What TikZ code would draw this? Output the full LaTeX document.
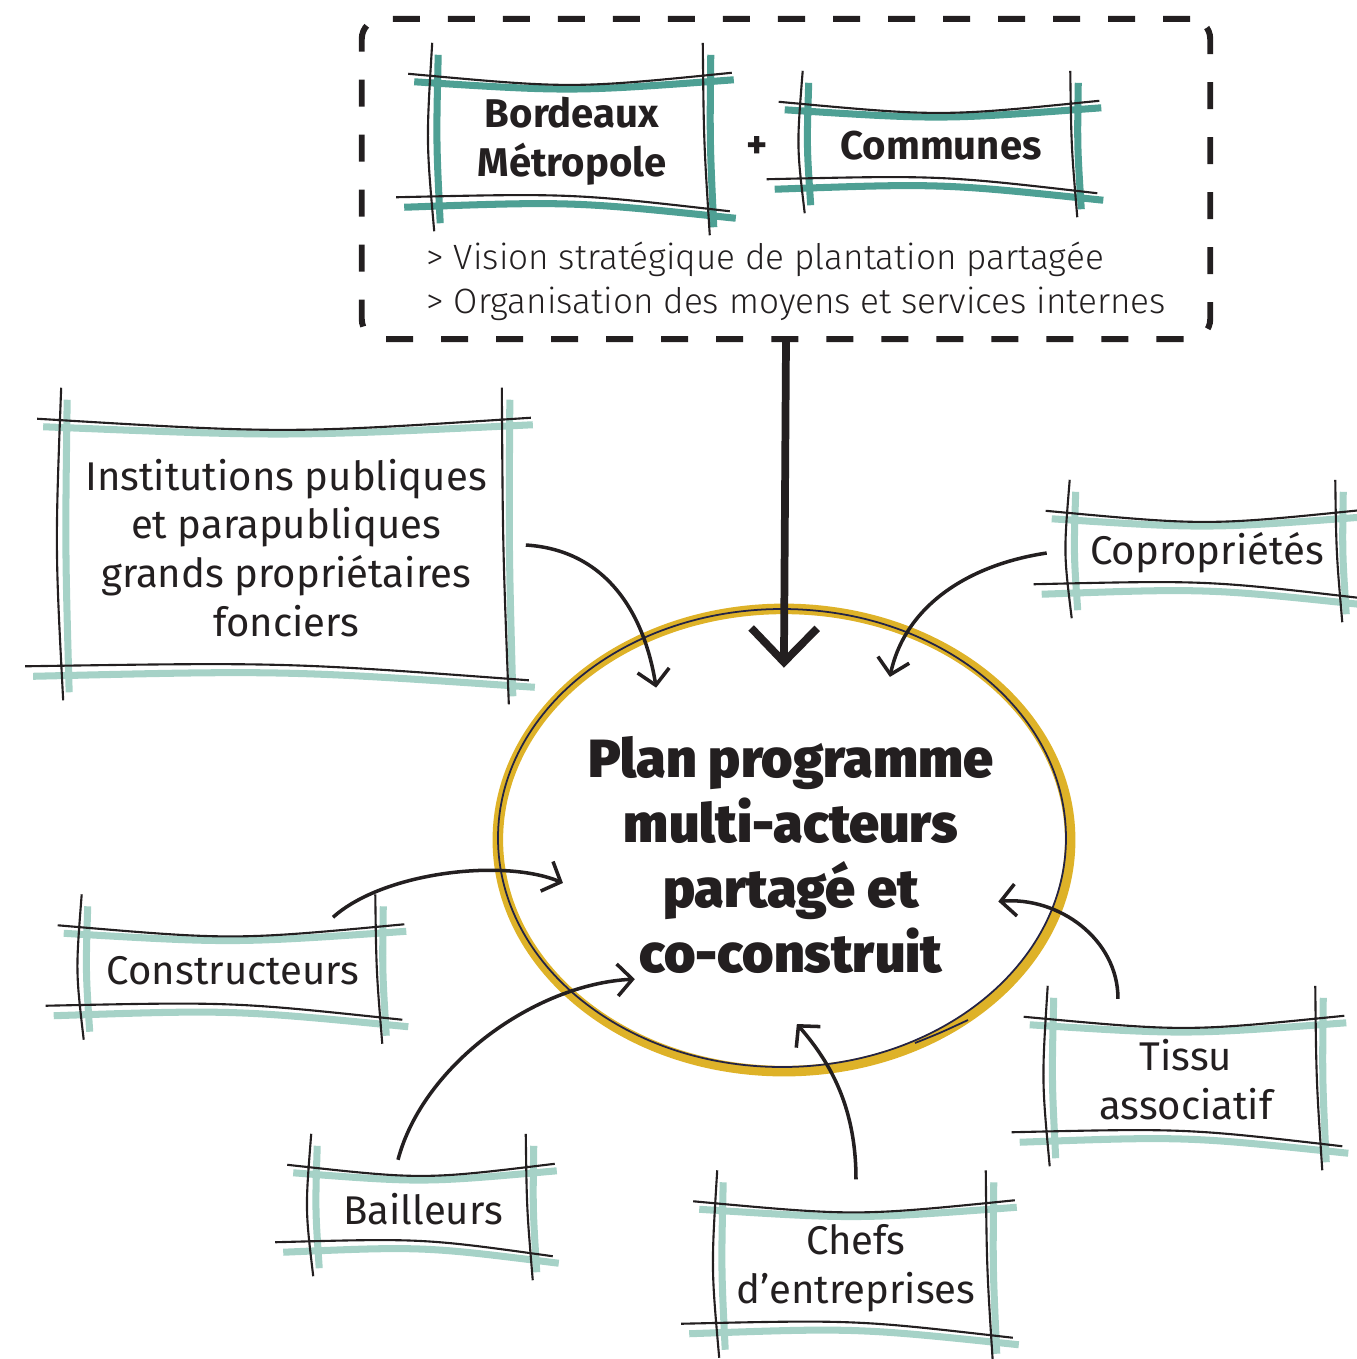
\documentclass[tikz,border=0pt]{standalone}
\usepackage{fontspec}
\setmainfont{Fira Sans}
\newfontfamily\lightfont{Fira Sans Light}
\newfontfamily\heavyfont{Fira Sans Black}
\usetikzlibrary{positioning,arrows.meta,calc,shapes.geometric}
\definecolor{tealdark}{RGB}{78,160,148}
\definecolor{teallight}{RGB}{166,210,199}
\definecolor{planyellow}{RGB}{222,178,40}
\definecolor{inkblue}{RGB}{35,35,70}
\definecolor{ink}{RGB}{35,31,32}

\newcommand{\boxfont}{\fontsize{11.4pt}{13.9pt}\selectfont}
\newcommand{\titlefont}{\heavyfont\fontsize{15.3pt}{18.5pt}\selectfont}
\newcommand{\goalfont}{\lightfont\fontsize{10pt}{12.5pt}\selectfont}

% hand-drawn double frame round a node: colour stroke under a thin ink stroke
\newcommand{\sketchframe}[2]{%
  \draw[#2, line width=2pt]
    ($(#1.north west)+(-22,3)$) .. controls ($(#1.north)+(0,13)$) .. ($(#1.north east)+(26,1)$)
    ($(#1.south west)+(-32,4)$) .. controls ($(#1.south)+(0,-2)$) .. ($(#1.south east)+(28,15)$)
    ($(#1.north west)+(2,-24)$) .. controls ($(#1.west)+(0,0)$) .. ($(#1.south west)+(4,20)$)
    ($(#1.north east)+(3,-24)$) .. controls ($(#1.east)+(2,0)$) .. ($(#1.south east)+(6,24)$);
  \draw[ink, line width=0.6pt]
    ($(#1.north west)+(-28,-5)$) .. controls ($(#1.north)+(0,10)$) .. ($(#1.north east)+(24,-6)$)
    ($(#1.south west)+(-40,-6)$) .. controls ($(#1.south)+(0,-10)$) .. ($(#1.south east)+(22,8)$)
    ($(#1.north west)+(-4,-36)$) .. controls ($(#1.west)+(-10,0)$) .. ($(#1.south west)+(-2,28)$)
    ($(#1.north east)+(-5,-36)$) .. controls ($(#1.east)+(-4,0)$) .. ($(#1.south east)+(2,32)$);
}

\begin{document}
\begin{tikzpicture}[x=0.01cm, y=-0.01cm,
  actor/.style={inner sep=0pt, align=center, text=ink, font=\boxfont},
  partner/.style={actor, font=\boxfont\bfseries},
  visionbox/.style={draw=ink, line width=1.7pt, rounded corners=0.2cm,
    dash pattern=on 0.27cm off 0.28cm, minimum width=8.48cm, minimum height=3.2cm},
  thinarrow/.style={ink, line width=1pt, -{Straight Barb[length=0.15cm, width=0.32cm]}},
  bigarrow/.style={ink, line width=2.2pt, -{Straight Barb[length=0.34cm, width=0.66cm]}}]
  \useasboundingbox (0,0) rectangle (1357,1359);

  % shared vision of the two partners
  \node[visionbox] (vision) at (786,179) {};
  \node[partner, minimum width=2.7cm, minimum height=1.23cm] (bm) at (572,141) {Bordeaux\\Métropole};
  \node[partner, minimum width=2.67cm, minimum height=0.77cm] (com) at (941,146) {Communes};
  \node[text=ink, font=\boxfont\bfseries] (plus) at (757,147) {+};
  \sketchframe{bm}{tealdark}
  \sketchframe{com}{tealdark}
  \node[anchor=west, align=left, text=ink, inner sep=0pt, font=\goalfont] (goals) at (426,281)
    {> Vision stratégique de plantation partagée\\> Organisation des moyens et services internes};

  % the programme in the middle
  \node[ellipse, draw=planyellow, line width=3pt, minimum width=5.72cm, minimum height=4.62cm] (plan) at (784,840) {};
  \draw[inkblue, line width=0.5pt] ($(plan.center)+(-2,-2)$) ellipse [x radius=284, y radius=229];
  \draw[inkblue, line width=0.5pt] (915,1043) .. controls (940,1033) .. (968,1020);
  \node[ellipse, minimum width=4.53cm, minimum height=3.67cm] (core) at (plan.center) {};
  \node[align=center, text=ink, font=\titlefont] (title) at ($(plan.center)+(7,15)$)
    {Plan programme\\multi-acteurs\\partagé et\\co-construit};

  % actors round it
  \node[actor, minimum width=4.4cm, minimum height=2.47cm] (inst) at (286,548)
    {Institutions publiques\\et parapubliques\\grands propriétaires\\fonciers};
  \node[actor, minimum width=2.65cm, minimum height=0.73cm] (copro) at (1207,553) {Copropriétés};
  \node[actor, minimum width=2.93cm, minimum height=0.8cm] (constr) at (233,971) {Constructeurs};
  \node[actor, minimum width=2.14cm, minimum height=0.77cm] (bail) at (423,1209) {Bailleurs};
  \node[actor, minimum width=2.68cm, minimum height=1.22cm] (chefs) at (856,1268) {Chefs\\d’entreprises};
  \node[actor, minimum width=2.67cm, minimum height=1.15cm] (tissu) at (1186,1080) {Tissu\\associatif};
  \foreach \n in {inst,copro,constr,bail,chefs,tissu}{
    \sketchframe{\n}{teallight}
  }

  \draw[bigarrow, shorten >=-0.12cm] (vision.south) -- (core.north);
  \draw[thinarrow] ($(inst.east)+(19,-3)$) .. controls +(80,5) and +(-12,-75) .. (core.130);
  \draw[thinarrow] ($(copro.west)+(-27,0)$) .. controls +(-80,12) and +(15,-70) .. (core.57);
  \draw[thinarrow] ($(constr.north)+(100,-13)$) .. controls +(50,-45) and +(-60,-25) .. (core.191);
  \draw[thinarrow] ($(bail.north)+(-25,-10)$) .. controls +(25,-95) and +(-100,5) .. (core.223);
  \draw[thinarrow] ($(chefs.north)+(0,-27)$) .. controls +(0,-70) and +(35,40) .. (core.274);
  \draw[thinarrow] ($(tissu.north)+(-68,-23)$) .. controls +(0,-60) and +(60,-5) .. (core.344);
\end{tikzpicture}
\end{document}
